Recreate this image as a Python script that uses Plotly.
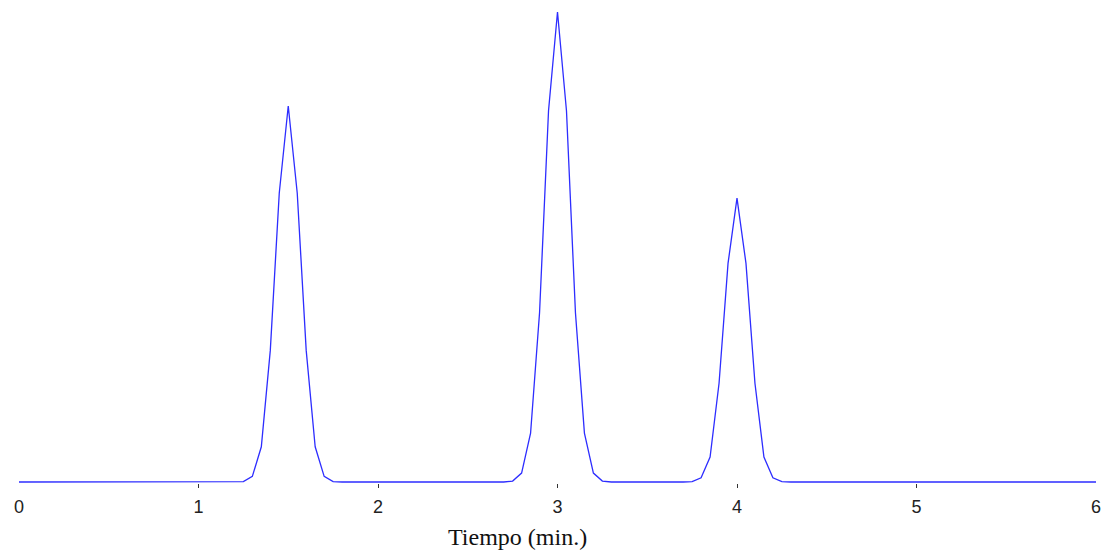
import plotly.graph_objects as go

# Chromatogram samples (time in min, detector response in arbitrary units)
tiempo = [0.00, 1.15, 1.20, 1.25, 1.30, 1.35, 1.40, 1.45, 1.50, 1.55, 1.60, 1.65, 1.70, 1.75, 1.80,
          2.70, 2.75, 2.80, 2.85, 2.90, 2.95, 3.00, 3.05, 3.10, 3.15, 3.20, 3.25, 3.30,
          3.70, 3.75, 3.80, 3.85, 3.90, 3.95, 4.00, 4.05, 4.10, 4.15, 4.20, 4.25, 4.30, 6.00]
senal = [0.0, 0.0, 0.1, 0.1, 1.2, 7.5, 28.0, 61.5, 80.0, 61.5, 28.0, 7.5, 1.2, 0.1, 0.0,
         0.0, 0.2, 1.9, 10.4, 36.0, 79.0, 100.0, 79.0, 36.0, 10.4, 1.9, 0.2, 0.0,
         0.0, 0.1, 0.9, 5.3, 21.0, 46.5, 60.4, 46.5, 21.0, 5.3, 0.9, 0.1, 0.0, 0.0]

tick_vals = [0, 1, 2, 3, 4, 5, 6]
tick_text = ["0", "1", "2", "3", "4", "5", "6"]
tick_marks = [1, 2, 3, 4, 5]
x_title = "Tiempo (min.)"

fig = go.Figure()
fig.add_trace(go.Scatter(x=tiempo, y=senal, mode="lines",
                         line=dict(color="rgb(45,45,255)", width=1.3),
                         showlegend=False, hoverinfo="skip"))
# invisible trace to activate the tick-mark axis
fig.add_trace(go.Scatter(x=[0, 6], y=[0, 0], mode="lines", xaxis="x2",
                         line=dict(width=0), opacity=0, showlegend=False, hoverinfo="skip"))

fig.update_layout(
    width=1108, height=553,
    margin=dict(l=19, r=12, t=3, b=70),
    paper_bgcolor="white", plot_bgcolor="white",
    xaxis=dict(range=[0, 6], tickvals=tick_vals, ticktext=tick_text,
               ticks="", showgrid=False, zeroline=False, showline=False,
               tickfont=dict(family="Liberation Sans, Arial", size=18, color="#222"),
               ticklabelstandoff=11),
    xaxis2=dict(range=[0, 6], overlaying="x", matches="x", anchor="y", side="bottom",
                tickvals=tick_marks, ticks="outside", ticklen=4, tickwidth=1,
                tickcolor="#333", showticklabels=False, showgrid=False,
                zeroline=False, showline=False),
    yaxis=dict(range=[-0.213, 101.91], visible=False),
    annotations=[dict(text=x_title, xref="paper", yref="paper", x=0.4624, y=-0.113,
                      showarrow=False, xanchor="center", yanchor="middle",
                      font=dict(family="Liberation Serif, Times New Roman", size=24, color="#111"))],
)

fig.write_html("out.html")
